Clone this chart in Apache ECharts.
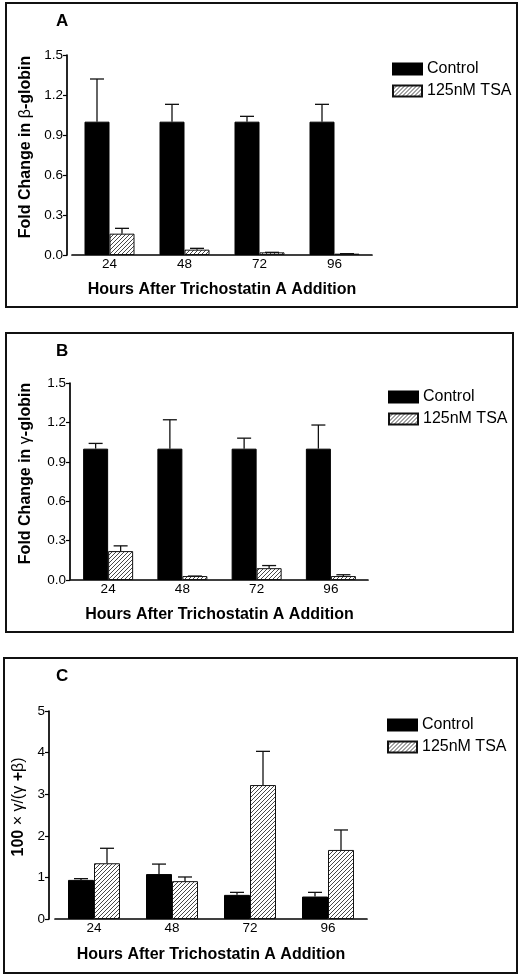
<!DOCTYPE html>
<html><head><meta charset="utf-8">
<script src="https://cdn.jsdelivr.net/npm/echarts@6/dist/echarts.min.js"></script>
<style>html,body{margin:0;padding:0;background:#fff}#c{width:520px;height:976px}</style>
</head><body><div id="c"></div>
<script>
const categories = ['24', '48', '72', '96'];
const seriesNames = ['Control', '125nM TSA'];
// Panel A: fold change in beta-globin
const aControl = [1.0, 1.0, 1.0, 1.0];
const aControlErr = [1.32, 1.13, 1.04, 1.13];
const aTSA = [0.16, 0.04, 0.02, 0.01];
const aTSAErr = [0.20, 0.05, 0.02, 0.01];
// Panel B: fold change in gamma-globin
const bControl = [1.0, 1.0, 1.0, 1.0];
const bControlErr = [1.04, 1.22, 1.08, 1.18];
const bTSA = [0.22, 0.03, 0.09, 0.03];
const bTSAErr = [0.26, 0.03, 0.11, 0.04];
// Panel C: 100 x gamma/(gamma+beta)
const cControl = [0.94, 1.08, 0.58, 0.54];
const cControlErr = [0.97, 1.32, 0.64, 0.64];
const cTSA = [1.34, 0.91, 3.22, 1.66];
const cTSAErr = [1.70, 1.01, 4.03, 2.14];
const abTicks = [0, 0.3, 0.6, 0.9, 1.2, 1.5];
const cTicks = [0, 1, 2, 3, 4, 5];

// hatch pattern
const pc = document.createElement('canvas');
pc.width = 4; pc.height = 4;
const g = pc.getContext('2d');
g.fillStyle = '#fff'; g.fillRect(0, 0, 4, 4);
g.strokeStyle = '#333'; g.lineWidth = 0.9;
g.beginPath();
g.moveTo(0, 4); g.lineTo(4, 0);
g.moveTo(-1, 1); g.lineTo(1, -1);
g.moveTo(3, 5); g.lineTo(5, 3);
g.stroke();
const hatch = { image: pc, repeat: 'repeat' };

const FONT = 'Liberation Sans, Arial, sans-serif';
const INK = '#000';
const panels = [
  { grid: { left: 72, width: 300, top: 55, height: 200 }, yOff: 5, ticks: abTicks, dec: 1, bw: 25,
    name: '{b|Fold Change in }{s|β}{b|-globin}', nameGap: 31, xGap: 27,
    ctl: aControl, ctlE: aControlErr, tsa: aTSA, tsaE: aTSAErr, legend: { left: 392, top: 61 } },
  { grid: { left: 71, width: 297, top: 383, height: 197 }, yOff: 1, ticks: abTicks, dec: 1, bw: 25,
    name: '{b|Fold Change in }{s|γ}{b|-globin}', nameGap: 36, xGap: 27,
    ctl: bControl, ctlE: bControlErr, tsa: bTSA, tsaE: bTSAErr, legend: { left: 388, top: 389 } },
  { grid: { left: 55, width: 312, top: 711, height: 208 }, yOff: 6, ticks: cTicks, dec: 0, bw: 26,
    name: '{b|100 }{s|× γ/(γ }{b|+}{s|β)}', nameGap: 14, xGap: 28,
    ctl: cControl, ctlE: cControlErr, tsa: cTSA, tsaE: cTSAErr, legend: { left: 387, top: 717 } }
];

function errSeries(pi, vals, errs, sign, bw) {
  return {
    type: 'custom', xAxisIndex: pi, yAxisIndex: pi, silent: true, z: 3,
    data: vals.map((v, i) => [i, errs[i], v]),
    encode: { x: 0, y: 1 },
    renderItem: function (params, api) {
      const i = api.value(0);
      const top = api.coord([i, api.value(1)]);
      const base = api.coord([i, api.value(2)]);
      const x = top[0] + sign * bw / 2;
      const st = { stroke: '#111', lineWidth: 1.3 };
      return { type: 'group', children: [
        { type: 'line', shape: { x1: x, y1: base[1], x2: x, y2: top[1] }, style: st },
        { type: 'line', shape: { x1: x - 7, y1: top[1], x2: x + 7, y2: top[1] }, style: st }
      ] };
    }
  };
}

const grids = [], xAxes = [], yAxes = [], series = [], legends = [];
panels.forEach((p, pi) => {
  const t = p.ticks;
  grids.push(p.grid);
  xAxes.push({
    type: 'category', gridIndex: pi, data: categories,
    axisLine: { lineStyle: { color: INK, width: 1.7 } },
    axisTick: { show: false },
    axisLabel: { color: INK, fontSize: 13.5, fontFamily: FONT, margin: 2 },
    name: 'Hours After Trichostatin A Addition', nameLocation: 'middle', nameGap: p.xGap,
    nameTextStyle: { color: INK, fontSize: 16, fontWeight: 'bold', fontFamily: FONT }
  });
  yAxes.push({
    type: 'value', gridIndex: pi, min: t[0], max: t[t.length - 1], interval: t[1] - t[0], offset: p.yOff,
    splitLine: { show: false },
    axisLine: { show: true, lineStyle: { color: INK, width: 1.7 } },
    axisTick: { show: true, length: 4, lineStyle: { color: INK, width: 1.2 } },
    axisLabel: { color: INK, fontSize: 13.5, fontFamily: FONT, margin: 4,
      formatter: v => v.toFixed(p.dec) },
    name: p.name, nameLocation: 'middle', nameGap: p.nameGap, nameRotate: 90,
    nameTextStyle: { color: INK, fontFamily: FONT, padding: [0, 0, 0, 16],
      rich: { b: { fontSize: 16, fontWeight: 'bold', fontFamily: FONT, color: INK },
              s: { fontSize: 16, fontWeight: 'normal', fontFamily: FONT, color: INK } } }
  });
  series.push({
    name: seriesNames[0], type: 'bar', xAxisIndex: pi, yAxisIndex: pi, data: p.ctl,
    barWidth: p.bw, barGap: '0%',
    itemStyle: { color: '#000', borderColor: '#000', borderWidth: 1 }
  });
  series.push({
    name: seriesNames[1], type: 'bar', xAxisIndex: pi, yAxisIndex: pi, data: p.tsa,
    barWidth: p.bw, barGap: '0%',
    itemStyle: { color: hatch, borderColor: '#111', borderWidth: 1 }
  });
  series.push(errSeries(pi, p.ctl, p.ctlE, -1, p.bw));
  series.push(errSeries(pi, p.tsa, p.tsaE, 1, p.bw));
  legends.push({
    left: p.legend.left, top: p.legend.top, orient: 'vertical', padding: 0,
    data: seriesNames, icon: 'rect', itemWidth: 29, itemHeight: 11, itemGap: 6,
    selectedMode: false,
    textStyle: { color: INK, fontSize: 16, fontFamily: FONT }
  });
});

const chart = echarts.init(document.getElementById('c'), null, { renderer: 'canvas' });
chart.setOption({
  animation: false,
  backgroundColor: '#fff',
  title: [
    { text: 'A', left: 56, top: 13, padding: 0, textStyle: { fontSize: 17, fontWeight: 'bold', color: INK, fontFamily: FONT } },
    { text: 'B', left: 56, top: 343, padding: 0, textStyle: { fontSize: 17, fontWeight: 'bold', color: INK, fontFamily: FONT } },
    { text: 'C', left: 56, top: 668, padding: 0, textStyle: { fontSize: 17, fontWeight: 'bold', color: INK, fontFamily: FONT } }
  ],
  graphic: [
    { type: 'rect', shape: { x: 6, y: 3, width: 511, height: 304 }, style: { fill: 'none', stroke: '#111', lineWidth: 2 } },
    { type: 'rect', shape: { x: 6, y: 333, width: 507, height: 299 }, style: { fill: 'none', stroke: '#111', lineWidth: 2 } },
    { type: 'rect', shape: { x: 4, y: 658, width: 513, height: 315 }, style: { fill: 'none', stroke: '#111', lineWidth: 2 } }
  ],
  legend: legends,
  grid: grids,
  xAxis: xAxes,
  yAxis: yAxes,
  series: series
});
</script>
</body></html>
